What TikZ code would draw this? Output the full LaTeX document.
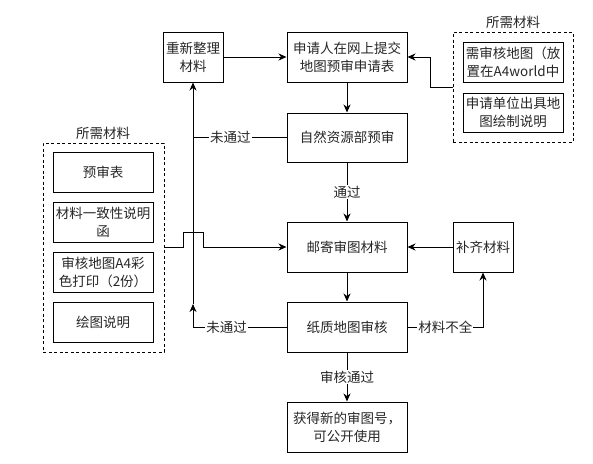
\documentclass[tikz,border=0pt]{standalone}
\usepackage{fontspec}
\setmainfont{Noto Sans CJK SC}
\usetikzlibrary{arrows.meta}
\begin{document}
\begin{tikzpicture}[x=1pt,y=-1pt,
  font=\fontsize{13.5}{18}\selectfont,
  every node/.style={text=black!85},
  box/.style={draw=black,line width=1pt,minimum width=#1,inner sep=1pt,align=center},
  dbox/.style={draw=black,line width=0.9pt,dash pattern=on 3pt off 2.5pt,inner sep=0pt},
  lbl/.style={fill=white,inner sep=1pt},
  conn/.style={line width=1pt,draw=black},
  arr/.style={conn,-{Stealth[length=8pt,width=7pt,inset=2.5pt]}}]
\useasboundingbox (0,0) rectangle (593,463);
% main column
\node[box=60pt,minimum height=50pt] (cz) at (193,57) {重新整理\\材料};
\node[box=120pt,minimum height=50pt] (sq) at (347,57) {申请人在网上提交\\地图预审申请表};
\node[box=120pt,minimum height=49pt] (zr) at (347,137.5) {自然资源部预审};
\node[box=120pt,minimum height=50pt] (yj) at (347,247) {邮寄审图材料};
\node[box=120pt,minimum height=50pt] (zz) at (347,327) {纸质地图审核};
\node[box=120pt,minimum height=50pt] (hd) at (347,427) {获得新的审图号，\\可公开使用};
\node[box=60pt,minimum height=50pt] (bq) at (483,247) {补齐材料};
% right materials
\node[dbox,minimum width=120pt,minimum height=110pt] (rd) at (513,87) {};
\node (rt) at (513,22) {所需材料};
\node[box=100pt,minimum height=40pt] (r1) at (513,62) {需审核地图（放\\置在A4world中};
\node[box=100pt,minimum height=39pt] (r2) at (513,112.5) {申请单位出具地\\图绘制说明};
% left materials
\node[dbox,minimum width=121pt,minimum height=209pt] (ld) at (103.5,247.5) {};
\node (lt) at (103,133) {所需材料};
\node[box=100pt,minimum height=40pt] (l1) at (103,172) {预审表};
\node[box=100pt,minimum height=40pt] (l2) at (103,222) {材料一致性说明\\函};
\node[box=100pt,minimum height=40pt] (l3) at (103,272) {审核地图A4彩\\色打印（2份）};
\node[box=100pt,minimum height=40pt] (l4) at (103,322) {绘图说明};
% coordinates
\coordinate (rj) at (430,87);
\coordinate (h1) at (183,247);
\coordinate (h2) at (183,232);
\coordinate (h3) at (203,232);
\coordinate (h4) at (203,247);
\coordinate (lowtip) at (193,304);
% connectors
\draw[arr] (cz.east) -- (sq.west);
\draw[arr] (rd.west) -- (rj) |- (sq.east);
\draw[arr] (sq.south) -- (zr.north);
\draw[arr] (zr.west) -- node[lbl,pos=0.6]{未通过} (cz.south |- zr.west) -- (cz.south);
\draw[arr] (zr.south) -- node[lbl]{通过} (yj.north);
\draw[arr] (ld.east |- h1) -- (h1) -- (h2) -- (h3) -- (h4) -- (yj.west);
\draw[arr] (bq.west) -- (yj.east);
\draw[arr] (yj.south) -- (zz.north);
\draw[arr] (zz.east) -- node[lbl,pos=0.5]{材料不全} (bq.south |- zz.east) -- (bq.south);
\draw[arr] (zz.west) -- node[lbl,pos=0.64]{未通过} (lowtip |- zz.west) -- (lowtip);
\draw[conn] (lowtip) -- (cz.south |- zr.west);
\draw[arr] (zz.south) -- node[lbl]{审核通过} (hd.north);
\end{tikzpicture}
\end{document}
